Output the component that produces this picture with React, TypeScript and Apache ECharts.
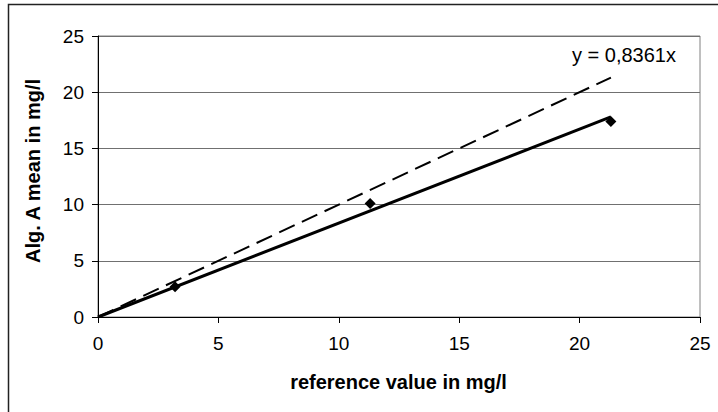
import React, { useEffect, useRef } from "react";
import * as echarts from "echarts";

const xTicks = [0, 5, 10, 15, 20, 25];
const yTicks = [0, 5, 10, 15, 20, 25];
const measuredPoints: [number, number][] = [
  [3.2, 2.7],
  [11.3, 10.1],
  [21.3, 17.4],
];
const identityLine: [number, number][] = [
  [0, 0],
  [21.3, 21.3],
];
const trendLine: [number, number][] = [
  [0, 0],
  [21.3, 17.8],
];
const equationLabel = "y = 0,8361x";
const xAxisName = "reference value in mg/l";
const yAxisName = "Alg. A mean in mg/l";

const FONT = "'Liberation Sans', Arial, sans-serif";

export default function App() {
  const ref = useRef<HTMLDivElement>(null);
  useEffect(() => {
    document.body.style.margin = "0";
    if (!ref.current) return;
    const chart = echarts.init(ref.current, undefined, { renderer: "svg" });
    chart.setOption({
      animation: false,
      backgroundColor: "#ffffff",
      grid: { left: 98, right: 18, top: 36, bottom: 95, show: true, borderColor: "#808080", borderWidth: 1 },
      xAxis: {
        type: "value",
        min: xTicks[0],
        max: xTicks[xTicks.length - 1],
        interval: 5,
        axisLine: { show: true, lineStyle: { color: "#000", width: 1 } },
        axisTick: { show: true, inside: false, length: 6, lineStyle: { color: "#000" } },
        axisLabel: { color: "#000", fontSize: 19, fontFamily: FONT, margin: 17 },
        splitLine: { show: false },
      },
      yAxis: {
        type: "value",
        min: yTicks[0],
        max: yTicks[yTicks.length - 1],
        interval: 5,
        axisLine: { show: true, lineStyle: { color: "#000", width: 1 } },
        axisTick: { show: true, inside: false, length: 6, lineStyle: { color: "#000" } },
        axisLabel: { color: "#000", fontSize: 19, fontFamily: FONT, margin: 14 },
        splitLine: { show: true, lineStyle: { color: "#707070", width: 1 } },
      },
      graphic: [
        {
          type: "rect",
          shape: { x: 8.5, y: 4.5, width: 740, height: 440 },
          style: { fill: "none", stroke: "#222", lineWidth: 1.5 },
          silent: true,
          z: 100,
        },
        {
          type: "text",
          x: 572,
          y: 55,
          style: { text: equationLabel, fill: "#000", font: `20px ${FONT}`, textAlign: "left", textVerticalAlign: "middle" },
        },
        {
          type: "text",
          x: 398.5,
          y: 382,
          style: { text: xAxisName, fill: "#000", font: `bold 20px ${FONT}`, textAlign: "center", textVerticalAlign: "middle" },
        },
        {
          type: "text",
          x: 33,
          y: 171,
          rotation: Math.PI / 2,
          style: { text: yAxisName, fill: "#000", font: `bold 20px ${FONT}`, textAlign: "center", textVerticalAlign: "middle" },
        },
      ],
      series: [
        {
          type: "line",
          data: identityLine,
          symbol: "none",
          lineStyle: { color: "#000", width: 2, type: [17, 8] },
          z: 2,
        },
        {
          type: "line",
          data: trendLine,
          symbol: "none",
          lineStyle: { color: "#000", width: 3 },
          z: 3,
        },
        {
          type: "scatter",
          data: measuredPoints,
          symbol: "diamond",
          symbolSize: 11,
          itemStyle: { color: "#000", opacity: 1 },
          z: 4,
        },
      ],
    });
    return () => chart.dispose();
  }, []);
  return <div ref={ref} style={{ width: 718, height: 412 }} />;
}
